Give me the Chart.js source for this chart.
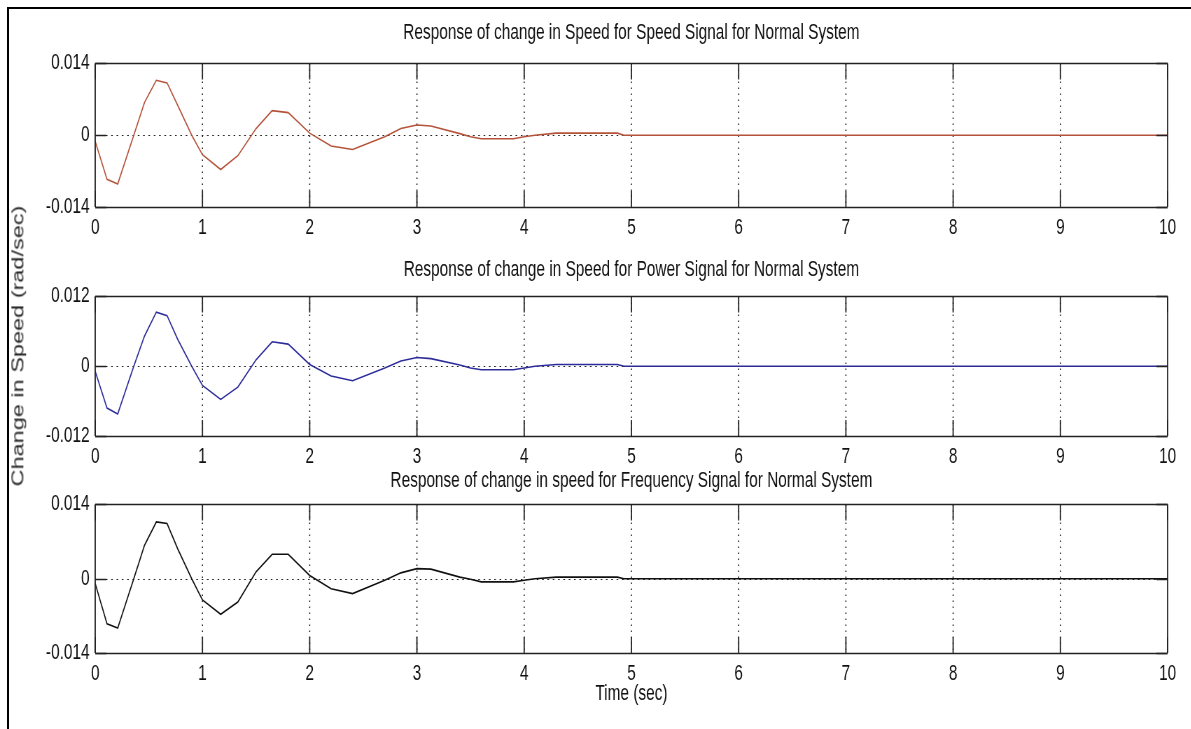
<!DOCTYPE html>
<html>
<head>
<meta charset="utf-8">
<title>Change in Speed responses</title>
<script src="https://cdn.jsdelivr.net/npm/chart.js@4.4.1/dist/chart.umd.min.js"></script>
<style>
  html, body { margin: 0; padding: 0; background: #fff; overflow: hidden; }
  #wrap { position: relative; width: 1191px; height: 729px; overflow: hidden; background: #fff; }
  .frame { position: absolute; left: 7px; top: 7px; width: 1184px; height: 722px; border-left: 2px solid #000; border-top: 2px solid #000; box-sizing: border-box; }
  /* the original picture is squeezed sideways, so the canvases are drawn wide and squeezed too */
  canvas { position: absolute; left: 0; transform: scaleX(0.7); transform-origin: 0 0; }
  #c1 { top: 0; }
  #c2 { top: 240px; }
  #c3 { top: 460px; }
  #ylabel {
    position: absolute; left: 18px; top: 346px; width: auto;
    transform: translate(-50%, -50%) scaleX(0.7) rotate(-90deg);
    font: 23.5px 'Liberation Sans', Arial, sans-serif; color: #2a2a2a;
    white-space: nowrap; line-height: 1;
  }
</style>
</head>
<body>
<div id="wrap">
<div class="frame"></div>
<canvas id="c1" width="1804" height="240"></canvas>
<canvas id="c2" width="1804" height="230"></canvas>
<canvas id="c3" width="1804" height="269"></canvas>
<div id="ylabel">Change in Speed (rad/sec)</div>
</div>
<script>
// values (vertices of the traces)
var timeSec = [0, 0.11, 0.21, 0.36, 0.46, 0.57, 0.67, 0.77, 0.9, 1.0, 1.17, 1.33, 1.5, 1.65, 1.8,
               2.0, 2.2, 2.4, 2.7, 2.85, 3.0, 3.13, 3.4, 3.5, 3.6, 3.9, 4.0, 4.1, 4.3, 4.87, 4.93, 10];
var speedSignal = [-0.0012, -0.0086, -0.0095, 0, 0.0064, 0.0107, 0.0102, 0.0058, 0, -0.0038, -0.0067, -0.0040, 0.0013, 0.0048, 0.0044,
                   0.0004, -0.0021, -0.0028, -0.0003, 0.0013, 0.0020, 0.0018, 0.0003, -0.0003, -0.0007, -0.0007, -0.0003, 0, 0.0004, 0.0004, 0, 0];
var powerSignal = [-0.0009, -0.0072, -0.0082, 0, 0.0052, 0.0093, 0.0087, 0.0046, 0, -0.0033, -0.0057, -0.0036, 0.0011, 0.0042, 0.0038,
                   0.0003, -0.0017, -0.0025, -0.0003, 0.0009, 0.0015, 0.0013, 0.0002, -0.0003, -0.0006, -0.0006, -0.0003, 0, 0.0003, 0.0003, 0, 0];
var freqSignal = [-0.0009, -0.0085, -0.0093, 0, 0.0063, 0.0107, 0.0104, 0.0056, 0, -0.0040, -0.0067, -0.0044, 0.0013, 0.0046, 0.0046,
                  0.0006, -0.0019, -0.0028, -0.0003, 0.0011, 0.0019, 0.0018, 0.0003, -0.0001, -0.0006, -0.0006, -0.0003, 0, 0.0003, 0.0003, 0, 0];

var xTicks = [0, 1, 2, 3, 4, 5, 6, 7, 8, 9, 10];
var xTickLabels = ['0', '1', '2', '3', '4', '5', '6', '7', '8', '9', '10'];
var yTicksSpeed = [-0.014, 0, 0.014];
var yLabelsSpeed = ['-0.014', '0', '0.014'];
var yTicksPower = [-0.012, 0, 0.012];
var yLabelsPower = ['-0.012', '0', '0.012'];
var yTicksFreq = [-0.014, 0, 0.014];
var yLabelsFreq = ['-0.014', '0', '0.014'];

Chart.defaults.font.family = "'Liberation Sans', Arial, sans-serif";
Chart.defaults.color = '#111';

// matlab style box: dotted grid, inward ticks, frame
var matlabAxes = {
    id: 'matlabAxes',
    beforeDatasetsDraw: function (chart) {
        var ctx = chart.ctx, a = chart.chartArea;
        var xs = chart.scales.x, ys = chart.scales.y;
        ctx.save();
        ctx.strokeStyle = '#222';
        ctx.setLineDash([1.5, 4.5]);
        ctx.lineWidth = 1.6;
        xs.ticks.forEach(function (t) {
            if (t.value <= xs.min || t.value >= xs.max) return;
            var px = xs.getPixelForValue(t.value);
            ctx.beginPath(); ctx.moveTo(px, a.top); ctx.lineTo(px, a.bottom); ctx.stroke();
        });
        ctx.lineWidth = 1.1;
        ctx.setLineDash([2.4, 5.2]);
        ys.ticks.forEach(function (t) {
            if (t.value <= ys.min || t.value >= ys.max) return;
            var py = Math.round(ys.getPixelForValue(t.value)) + 0.5;
            ctx.beginPath(); ctx.moveTo(a.left, py); ctx.lineTo(a.right, py); ctx.stroke();
        });
        ctx.restore();
    },
    afterDatasetsDraw: function (chart) {
        var ctx = chart.ctx, a = chart.chartArea;
        var xs = chart.scales.x, ys = chart.scales.y;
        ctx.save();
        ctx.strokeStyle = '#222';
        ctx.setLineDash([]);
        ctx.lineWidth = 1.8;
        xs.ticks.forEach(function (t) {
            var px = xs.getPixelForValue(t.value);
            ctx.beginPath();
            ctx.moveTo(px, a.top); ctx.lineTo(px, a.top + 16);
            ctx.moveTo(px, a.bottom); ctx.lineTo(px, a.bottom - 16);
            ctx.stroke();
        });
        ctx.lineWidth = 1.3;
        ys.ticks.forEach(function (t) {
            var py = Math.round(ys.getPixelForValue(t.value)) + 0.5;
            ctx.beginPath();
            ctx.moveTo(a.left, py); ctx.lineTo(a.left + 16, py);
            ctx.moveTo(a.right, py); ctx.lineTo(a.right - 16, py);
            ctx.stroke();
        });
        // frame: vertical sides a bit heavier because of the squeeze
        ctx.lineWidth = 1.3;
        ctx.beginPath();
        ctx.moveTo(a.left, Math.round(a.top) + 0.5); ctx.lineTo(a.right, Math.round(a.top) + 0.5);
        ctx.moveTo(a.left, Math.round(a.bottom) + 0.5); ctx.lineTo(a.right, Math.round(a.bottom) + 0.5);
        ctx.stroke();
        ctx.lineWidth = 1.8;
        ctx.beginPath();
        ctx.moveTo(a.left, a.top); ctx.lineTo(a.left, a.bottom);
        ctx.moveTo(a.right, a.top); ctx.lineTo(a.right, a.bottom);
        ctx.stroke();
        ctx.restore();
    }
};

function makeChart(id, values, color, yTicks, yLabels, title, titlePad, xHeight, xTitle) {
    var pts = timeSec.map(function (t, i) { return { x: t, y: values[i] }; });
    return new Chart(document.getElementById(id), {
        type: 'line',
        data: {
            datasets: [{
                data: pts,
                borderColor: color,
                borderWidth: 1.6,
                pointRadius: 0,
                tension: 0,
                fill: false
            }]
        },
        options: {
            responsive: false,
            animation: false,
            events: [],
            layout: { padding: 0 },
            plugins: {
                legend: { display: false },
                tooltip: { enabled: false },
                title: {
                    display: true,
                    text: title,
                    font: { size: 22, weight: 'normal', lineHeight: 1.2 },
                    padding: titlePad,
                    color: '#111'
                }
            },
            scales: {
                x: {
                    type: 'linear',
                    min: 0, max: 10,
                    afterBuildTicks: function (s) { s.ticks = xTicks.map(function (v) { return { value: v }; }); },
                    afterFit: function (s) { s.height = xHeight; },
                    grid: { display: false, drawTicks: false },
                    border: { display: false },
                    ticks: {
                        font: { size: 22, lineHeight: 1.2 },
                        padding: 8,
                        maxRotation: 0,
                        autoSkip: false,
                        callback: function (v) { return xTickLabels[xTicks.indexOf(v)]; }
                    },
                    title: xTitle ? {
                        display: true, text: xTitle,
                        font: { size: 22, lineHeight: 1.2 },
                        padding: { top: 0, bottom: 22 },
                        color: '#111'
                    } : { display: false }
                },
                y: {
                    type: 'linear',
                    position: 'left',
                    min: yTicks[0], max: yTicks[yTicks.length - 1],
                    afterBuildTicks: function (s) { s.ticks = yTicks.map(function (v) { return { value: v }; }); },
                    afterFit: function (s) { s.width = 136; },
                    grid: { display: false, drawTicks: false },
                    border: { display: false },
                    ticks: {
                        font: { size: 22 },
                        padding: 8,
                        callback: function (v) { return yLabels[yTicks.indexOf(v)]; }
                    }
                },
                // empty right-hand strip so the titles centre over the plot box
                yr: {
                    type: 'linear',
                    position: 'right',
                    afterFit: function (s) { s.width = 136; },
                    grid: { display: false, drawTicks: false },
                    border: { display: false },
                    ticks: { display: false }
                }
            }
        },
        plugins: [matlabAxes]
    });
}

makeChart('c1', speedSignal, '#b4533a', yTicksSpeed, yLabelsSpeed,
    'Response of change in Speed for Speed Signal for Normal System',
    { top: 20, bottom: 17 }, 33, null);
makeChart('c2', powerSignal, '#2c2c9a', yTicksPower, yLabelsPower,
    'Response of change in Speed for Power Signal for Normal System',
    { top: 17, bottom: 13 }, 34, null);
makeChart('c3', freqSignal, '#111111', yTicksFreq, yLabelsFreq,
    'Response of change in speed for Frequency Signal for Normal System',
    { top: 8, bottom: 10 }, 76, 'Time (sec)');
</script>
</body>
</html>
